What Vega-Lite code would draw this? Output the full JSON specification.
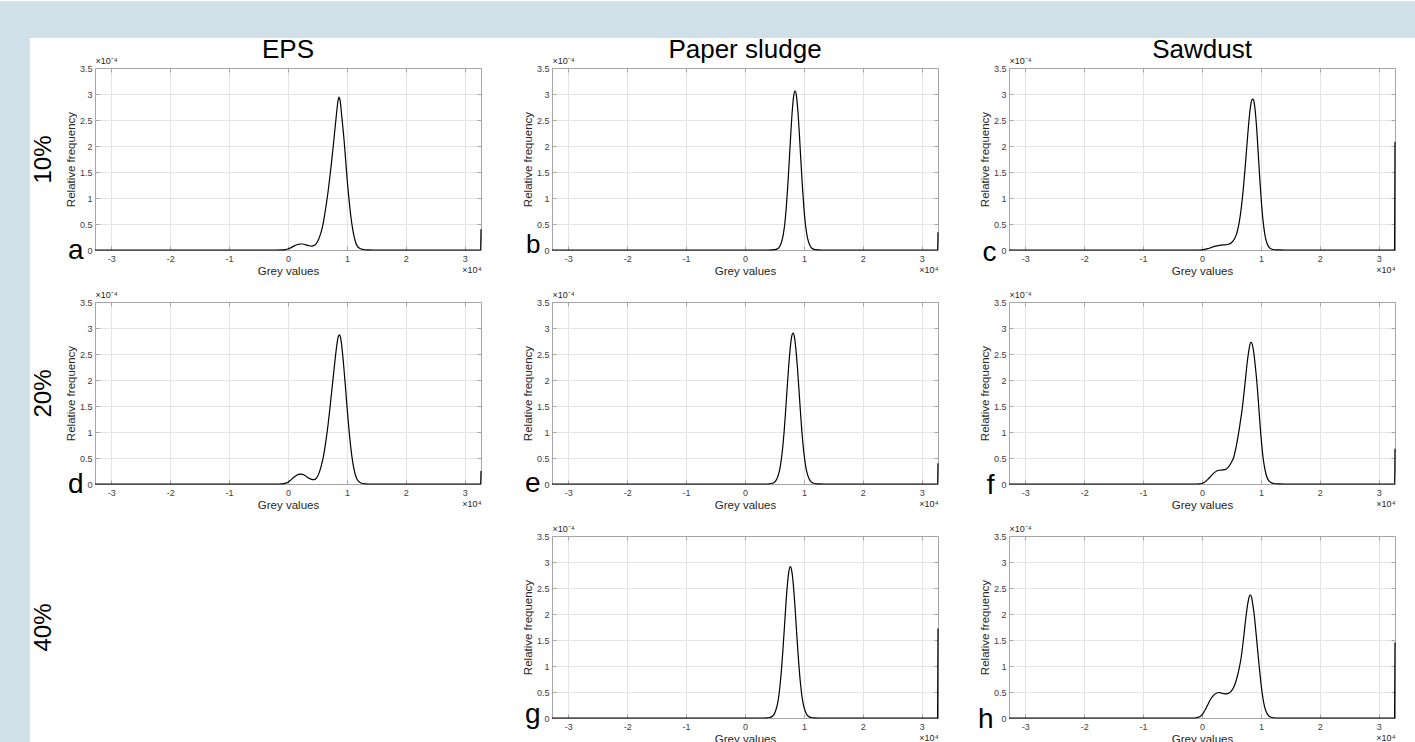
{
  "$schema": "https://vega.github.io/schema/vega-lite/v6.json",
  "padding": 0,
  "background": "#ffffff",
  "config": {"font": "Liberation Sans", "view": {"stroke": null}},
  "datasets": {
    "a": [{"grey":-32768,"freq":0},{"grey":-2000,"freq":0},{"grey":-1000,"freq":0.003e-4},{"grey":-500,"freq":0.008e-4},{"grey":0,"freq":0.02e-4},{"grey":500,"freq":0.045e-4},{"grey":1000,"freq":0.075e-4},{"grey":1500,"freq":0.10e-4},{"grey":2000,"freq":0.115e-4},{"grey":2500,"freq":0.115e-4},{"grey":3000,"freq":0.10e-4},{"grey":3500,"freq":0.085e-4},{"grey":4000,"freq":0.075e-4},{"grey":4500,"freq":0.09e-4},{"grey":5000,"freq":0.16e-4},{"grey":5500,"freq":0.30e-4},{"grey":5900,"freq":0.47e-4},{"grey":6200,"freq":0.66e-4},{"grey":6500,"freq":0.88e-4},{"grey":6800,"freq":1.12e-4},{"grey":7100,"freq":1.40e-4},{"grey":7400,"freq":1.70e-4},{"grey":7700,"freq":2.02e-4},{"grey":8000,"freq":2.36e-4},{"grey":8250,"freq":2.64e-4},{"grey":8450,"freq":2.84e-4},{"grey":8650,"freq":2.94e-4},{"grey":8800,"freq":2.90e-4},{"grey":8950,"freq":2.78e-4},{"grey":9100,"freq":2.60e-4},{"grey":9300,"freq":2.38e-4},{"grey":9500,"freq":2.14e-4},{"grey":9700,"freq":1.86e-4},{"grey":9900,"freq":1.56e-4},{"grey":10100,"freq":1.28e-4},{"grey":10300,"freq":1.04e-4},{"grey":10500,"freq":0.82e-4},{"grey":10700,"freq":0.62e-4},{"grey":10900,"freq":0.46e-4},{"grey":11200,"freq":0.27e-4},{"grey":11500,"freq":0.14e-4},{"grey":11800,"freq":0.07e-4},{"grey":12200,"freq":0.03e-4},{"grey":12800,"freq":0.01e-4},{"grey":13500,"freq":0.003e-4},{"grey":14500,"freq":0},{"grey":32700,"freq":0},{"grey":32767,"freq":0.40e-4}],
    "b": [{"grey":-32768,"freq":0},{"grey":4000,"freq":0},{"grey":4500,"freq":0.002e-4},{"grey":5000,"freq":0.006e-4},{"grey":5500,"freq":0.022e-4},{"grey":5750,"freq":0.045e-4},{"grey":6000,"freq":0.09e-4},{"grey":6250,"freq":0.17e-4},{"grey":6500,"freq":0.30e-4},{"grey":6750,"freq":0.50e-4},{"grey":7000,"freq":0.81e-4},{"grey":7250,"freq":1.21e-4},{"grey":7500,"freq":1.69e-4},{"grey":7750,"freq":2.19e-4},{"grey":8000,"freq":2.64e-4},{"grey":8250,"freq":2.95e-4},{"grey":8500,"freq":3.06e-4},{"grey":8750,"freq":2.95e-4},{"grey":9000,"freq":2.64e-4},{"grey":9250,"freq":2.19e-4},{"grey":9500,"freq":1.69e-4},{"grey":9750,"freq":1.21e-4},{"grey":10000,"freq":0.81e-4},{"grey":10250,"freq":0.50e-4},{"grey":10500,"freq":0.30e-4},{"grey":10750,"freq":0.17e-4},{"grey":11000,"freq":0.09e-4},{"grey":11250,"freq":0.045e-4},{"grey":11500,"freq":0.022e-4},{"grey":12000,"freq":0.006e-4},{"grey":12500,"freq":0.002e-4},{"grey":13000,"freq":0},{"grey":32700,"freq":0},{"grey":32767,"freq":0.34e-4}],
    "c": [{"grey":-32768,"freq":0},{"grey":-1000,"freq":0},{"grey":0,"freq":0.004e-4},{"grey":500,"freq":0.012e-4},{"grey":1000,"freq":0.025e-4},{"grey":1500,"freq":0.045e-4},{"grey":2000,"freq":0.065e-4},{"grey":2500,"freq":0.08e-4},{"grey":3000,"freq":0.09e-4},{"grey":3500,"freq":0.097e-4},{"grey":4000,"freq":0.10e-4},{"grey":4500,"freq":0.11e-4},{"grey":5000,"freq":0.14e-4},{"grey":5500,"freq":0.21e-4},{"grey":5900,"freq":0.32e-4},{"grey":6300,"freq":0.52e-4},{"grey":6700,"freq":0.84e-4},{"grey":7000,"freq":1.16e-4},{"grey":7300,"freq":1.55e-4},{"grey":7600,"freq":1.98e-4},{"grey":7900,"freq":2.40e-4},{"grey":8200,"freq":2.73e-4},{"grey":8450,"freq":2.88e-4},{"grey":8650,"freq":2.90e-4},{"grey":8850,"freq":2.84e-4},{"grey":9100,"freq":2.60e-4},{"grey":9350,"freq":2.22e-4},{"grey":9600,"freq":1.76e-4},{"grey":9850,"freq":1.30e-4},{"grey":10100,"freq":0.90e-4},{"grey":10350,"freq":0.58e-4},{"grey":10600,"freq":0.35e-4},{"grey":10850,"freq":0.20e-4},{"grey":11100,"freq":0.11e-4},{"grey":11400,"freq":0.05e-4},{"grey":11800,"freq":0.018e-4},{"grey":12300,"freq":0.005e-4},{"grey":13000,"freq":0.001e-4},{"grey":14000,"freq":0},{"grey":32700,"freq":0},{"grey":32767,"freq":2.08e-4}],
    "d": [{"grey":-32768,"freq":0},{"grey":-2000,"freq":0},{"grey":-1000,"freq":0.004e-4},{"grey":-500,"freq":0.012e-4},{"grey":0,"freq":0.035e-4},{"grey":500,"freq":0.08e-4},{"grey":1000,"freq":0.13e-4},{"grey":1500,"freq":0.17e-4},{"grey":2000,"freq":0.19e-4},{"grey":2500,"freq":0.185e-4},{"grey":3000,"freq":0.155e-4},{"grey":3500,"freq":0.115e-4},{"grey":4000,"freq":0.09e-4},{"grey":4400,"freq":0.085e-4},{"grey":4800,"freq":0.11e-4},{"grey":5200,"freq":0.19e-4},{"grey":5600,"freq":0.33e-4},{"grey":6000,"freq":0.52e-4},{"grey":6400,"freq":0.80e-4},{"grey":6800,"freq":1.14e-4},{"grey":7100,"freq":1.44e-4},{"grey":7400,"freq":1.76e-4},{"grey":7700,"freq":2.08e-4},{"grey":8000,"freq":2.40e-4},{"grey":8300,"freq":2.68e-4},{"grey":8550,"freq":2.84e-4},{"grey":8750,"freq":2.87e-4},{"grey":8950,"freq":2.80e-4},{"grey":9200,"freq":2.58e-4},{"grey":9450,"freq":2.28e-4},{"grey":9700,"freq":1.94e-4},{"grey":9950,"freq":1.58e-4},{"grey":10200,"freq":1.24e-4},{"grey":10450,"freq":0.93e-4},{"grey":10700,"freq":0.66e-4},{"grey":10950,"freq":0.45e-4},{"grey":11250,"freq":0.26e-4},{"grey":11600,"freq":0.12e-4},{"grey":12000,"freq":0.05e-4},{"grey":12500,"freq":0.015e-4},{"grey":13200,"freq":0.004e-4},{"grey":14000,"freq":0},{"grey":32700,"freq":0},{"grey":32767,"freq":0.25e-4}],
    "e": [{"grey":-32768,"freq":0},{"grey":3650,"freq":0},{"grey":4150,"freq":0.004e-4},{"grey":4650,"freq":0.014e-4},{"grey":5150,"freq":0.05e-4},{"grey":5400,"freq":0.095e-4},{"grey":5650,"freq":0.17e-4},{"grey":5900,"freq":0.28e-4},{"grey":6150,"freq":0.46e-4},{"grey":6400,"freq":0.70e-4},{"grey":6650,"freq":1.02e-4},{"grey":6900,"freq":1.41e-4},{"grey":7150,"freq":1.83e-4},{"grey":7400,"freq":2.24e-4},{"grey":7650,"freq":2.58e-4},{"grey":7900,"freq":2.82e-4},{"grey":8150,"freq":2.90e-4},{"grey":8400,"freq":2.82e-4},{"grey":8650,"freq":2.58e-4},{"grey":8900,"freq":2.24e-4},{"grey":9150,"freq":1.83e-4},{"grey":9400,"freq":1.41e-4},{"grey":9650,"freq":1.02e-4},{"grey":9900,"freq":0.70e-4},{"grey":10150,"freq":0.46e-4},{"grey":10400,"freq":0.28e-4},{"grey":10650,"freq":0.17e-4},{"grey":10900,"freq":0.095e-4},{"grey":11150,"freq":0.05e-4},{"grey":11650,"freq":0.014e-4},{"grey":12150,"freq":0.004e-4},{"grey":12650,"freq":0.001e-4},{"grey":13500,"freq":0},{"grey":32700,"freq":0},{"grey":32767,"freq":0.40e-4}],
    "f": [{"grey":-32768,"freq":0},{"grey":-1000,"freq":0},{"grey":-500,"freq":0.002e-4},{"grey":0,"freq":0.01e-4},{"grey":500,"freq":0.04e-4},{"grey":1000,"freq":0.09e-4},{"grey":1500,"freq":0.15e-4},{"grey":2000,"freq":0.21e-4},{"grey":2500,"freq":0.25e-4},{"grey":3000,"freq":0.265e-4},{"grey":3500,"freq":0.27e-4},{"grey":4000,"freq":0.28e-4},{"grey":4500,"freq":0.33e-4},{"grey":5000,"freq":0.42e-4},{"grey":5400,"freq":0.52e-4},{"grey":5800,"freq":0.72e-4},{"grey":6200,"freq":0.97e-4},{"grey":6500,"freq":1.19e-4},{"grey":6800,"freq":1.42e-4},{"grey":7100,"freq":1.72e-4},{"grey":7400,"freq":2.04e-4},{"grey":7700,"freq":2.36e-4},{"grey":8000,"freq":2.60e-4},{"grey":8300,"freq":2.73e-4},{"grey":8550,"freq":2.68e-4},{"grey":8800,"freq":2.52e-4},{"grey":9000,"freq":2.32e-4},{"grey":9200,"freq":2.10e-4},{"grey":9400,"freq":1.84e-4},{"grey":9600,"freq":1.54e-4},{"grey":9800,"freq":1.22e-4},{"grey":10000,"freq":0.93e-4},{"grey":10200,"freq":0.68e-4},{"grey":10400,"freq":0.48e-4},{"grey":10700,"freq":0.27e-4},{"grey":11000,"freq":0.14e-4},{"grey":11300,"freq":0.07e-4},{"grey":11700,"freq":0.03e-4},{"grey":12200,"freq":0.01e-4},{"grey":13000,"freq":0.002e-4},{"grey":14000,"freq":0},{"grey":32700,"freq":0},{"grey":32767,"freq":0.68e-4}],
    "g": [{"grey":-32768,"freq":0},{"grey":3200,"freq":0},{"grey":3700,"freq":0.002e-4},{"grey":4200,"freq":0.01e-4},{"grey":4700,"freq":0.038e-4},{"grey":4950,"freq":0.075e-4},{"grey":5200,"freq":0.14e-4},{"grey":5450,"freq":0.24e-4},{"grey":5700,"freq":0.39e-4},{"grey":5950,"freq":0.63e-4},{"grey":6200,"freq":0.94e-4},{"grey":6450,"freq":1.33e-4},{"grey":6700,"freq":1.76e-4},{"grey":6950,"freq":2.20e-4},{"grey":7200,"freq":2.57e-4},{"grey":7450,"freq":2.82e-4},{"grey":7700,"freq":2.91e-4},{"grey":7950,"freq":2.82e-4},{"grey":8200,"freq":2.57e-4},{"grey":8450,"freq":2.20e-4},{"grey":8700,"freq":1.76e-4},{"grey":8950,"freq":1.33e-4},{"grey":9200,"freq":0.94e-4},{"grey":9450,"freq":0.63e-4},{"grey":9700,"freq":0.39e-4},{"grey":9950,"freq":0.24e-4},{"grey":10200,"freq":0.14e-4},{"grey":10450,"freq":0.075e-4},{"grey":10700,"freq":0.038e-4},{"grey":11200,"freq":0.01e-4},{"grey":11700,"freq":0.002e-4},{"grey":12500,"freq":0},{"grey":32700,"freq":0},{"grey":32767,"freq":1.72e-4}],
    "h": [{"grey":-32768,"freq":0},{"grey":-1500,"freq":0},{"grey":-1000,"freq":0.005e-4},{"grey":-500,"freq":0.02e-4},{"grey":0,"freq":0.06e-4},{"grey":500,"freq":0.15e-4},{"grey":1000,"freq":0.26e-4},{"grey":1500,"freq":0.37e-4},{"grey":2000,"freq":0.44e-4},{"grey":2500,"freq":0.48e-4},{"grey":2900,"freq":0.49e-4},{"grey":3300,"freq":0.48e-4},{"grey":3700,"freq":0.47e-4},{"grey":4100,"freq":0.465e-4},{"grey":4600,"freq":0.48e-4},{"grey":5000,"freq":0.52e-4},{"grey":5500,"freq":0.62e-4},{"grey":5900,"freq":0.76e-4},{"grey":6300,"freq":0.95e-4},{"grey":6600,"freq":1.13e-4},{"grey":6900,"freq":1.38e-4},{"grey":7200,"freq":1.68e-4},{"grey":7500,"freq":1.98e-4},{"grey":7800,"freq":2.22e-4},{"grey":8000,"freq":2.33e-4},{"grey":8200,"freq":2.37e-4},{"grey":8400,"freq":2.33e-4},{"grey":8600,"freq":2.20e-4},{"grey":8850,"freq":2.00e-4},{"grey":9100,"freq":1.72e-4},{"grey":9350,"freq":1.42e-4},{"grey":9600,"freq":1.12e-4},{"grey":9850,"freq":0.84e-4},{"grey":10100,"freq":0.58e-4},{"grey":10350,"freq":0.38e-4},{"grey":10600,"freq":0.23e-4},{"grey":10900,"freq":0.12e-4},{"grey":11200,"freq":0.06e-4},{"grey":11600,"freq":0.02e-4},{"grey":12200,"freq":0.005e-4},{"grey":13000,"freq":0},{"grey":32700,"freq":0},{"grey":32767,"freq":1.45e-4}]
  },
  "columns": 3,
  "bounds": "flush",
  "spacing": {"row": 52, "column": 71},
  "concat": [
    {
      "width": 386, "height": 182,
      "title": {"text": "EPS", "fontSize": 26, "fontWeight": "normal", "color": "#000000", "anchor": "middle", "frame": "group", "offset": -6},
      "data": {"name": "a"},
      "layer": [
        {"mark": {"type": "line", "color": "#000000", "strokeWidth": 1.2, "interpolate": "monotone"},
         "encoding": {
           "x": {"field": "grey", "type": "quantitative", "scale": {"domain": [-32768, 32767], "nice": false, "zero": false},
                 "axis": {"orient": "bottom", "values": [-30000,-20000,-10000,0,10000,20000,30000], "labelExpr": "'' + (datum.value/10000)", "title": "Grey values", "grid": true, "gridColor": "#e4e4e4", "domain": true, "domainColor": "#a6a6a6", "ticks": true, "tickSize": -4, "tickColor": "#a6a6a6", "labelFontSize": 9, "labelColor": "#404040", "labelPadding": 8, "labelFlush": false, "titleFontSize": 11.5, "titleFontWeight": "normal", "titleColor": "#262626", "titlePadding": 2}},
           "y": {"field": "freq", "type": "quantitative", "scale": {"domain": [0, 0.00035], "nice": false, "zero": false},
                 "axis": {"orient": "left", "values": [0,0.00005,0.0001,0.00015,0.0002,0.00025,0.0003,0.00035], "labelExpr": "format(datum.value*10000,'.2~f')", "title": "Relative frequency", "grid": true, "gridColor": "#e4e4e4", "domain": true, "domainColor": "#a6a6a6", "ticks": true, "tickSize": -4, "tickColor": "#a6a6a6", "labelFontSize": 9, "labelColor": "#404040", "labelPadding": 7, "labelFlush": false, "titleFontSize": 11.5, "titleFontWeight": "normal", "titleColor": "#262626", "titlePadding": 3}}
         }},
        {"mark": {"type": "line", "strokeOpacity": 0},
         "encoding": {
           "x": {"field": "grey", "type": "quantitative", "axis": {"orient": "top", "values": [-30000,-20000,-10000,0,10000,20000,30000], "labels": false, "grid": false, "domain": true, "domainColor": "#a6a6a6", "ticks": true, "tickSize": -4, "tickColor": "#a6a6a6", "title": "×10⁻⁴", "titleAnchor": "start", "titleFontSize": 9, "titleFontWeight": "normal", "titleColor": "#262626", "titlePadding": 2}},
           "y": {"field": "freq", "type": "quantitative", "axis": {"orient": "left", "values": [0], "labelExpr": "'a'", "labelFontSize": 28, "labelColor": "#000000", "labelBaseline": "alphabetic", "labelOffset": 8, "labelPadding": 12, "labelFlush": false, "ticks": false, "tickSize": 0, "domain": false, "grid": false, "title": "10%", "titleFontSize": 24, "titleFontWeight": "normal", "titleColor": "#000000", "titlePadding": 12}}
         }},
        {"mark": {"type": "line", "strokeOpacity": 0},
         "encoding": {
           "x": {"field": "grey", "type": "quantitative", "axis": {"orient": "bottom", "labels": false, "ticks": false, "domain": false, "grid": false, "title": "×10⁴", "titleAnchor": "end", "titleFontSize": 9, "titleFontWeight": "normal", "titleColor": "#262626", "titlePadding": 15}},
           "y": {"field": "freq", "type": "quantitative", "axis": {"orient": "right", "values": [0,0.00005,0.0001,0.00015,0.0002,0.00025,0.0003,0.00035], "labels": false, "grid": false, "domain": true, "domainColor": "#a6a6a6", "ticks": true, "tickSize": -4, "tickColor": "#a6a6a6", "title": null}}
         }}
      ],
      "resolve": {"axis": {"x": "independent", "y": "independent"}}
    },
    {
      "width": 386, "height": 182,
      "title": {"text": "Paper sludge", "fontSize": 26, "fontWeight": "normal", "color": "#000000", "anchor": "middle", "frame": "group", "offset": -6},
      "data": {"name": "b"},
      "layer": [
        {"mark": {"type": "line", "color": "#000000", "strokeWidth": 1.2, "interpolate": "monotone"},
         "encoding": {
           "x": {"field": "grey", "type": "quantitative", "scale": {"domain": [-32768, 32767], "nice": false, "zero": false},
                 "axis": {"orient": "bottom", "values": [-30000,-20000,-10000,0,10000,20000,30000], "labelExpr": "'' + (datum.value/10000)", "title": "Grey values", "grid": true, "gridColor": "#e4e4e4", "domain": true, "domainColor": "#a6a6a6", "ticks": true, "tickSize": -4, "tickColor": "#a6a6a6", "labelFontSize": 9, "labelColor": "#404040", "labelPadding": 8, "labelFlush": false, "titleFontSize": 11.5, "titleFontWeight": "normal", "titleColor": "#262626", "titlePadding": 2}},
           "y": {"field": "freq", "type": "quantitative", "scale": {"domain": [0, 0.00035], "nice": false, "zero": false},
                 "axis": {"orient": "left", "values": [0,0.00005,0.0001,0.00015,0.0002,0.00025,0.0003,0.00035], "labelExpr": "format(datum.value*10000,'.2~f')", "title": "Relative frequency", "grid": true, "gridColor": "#e4e4e4", "domain": true, "domainColor": "#a6a6a6", "ticks": true, "tickSize": -4, "tickColor": "#a6a6a6", "labelFontSize": 9, "labelColor": "#404040", "labelPadding": 7, "labelFlush": false, "titleFontSize": 11.5, "titleFontWeight": "normal", "titleColor": "#262626", "titlePadding": 3}}
         }},
        {"mark": {"type": "line", "strokeOpacity": 0},
         "encoding": {
           "x": {"field": "grey", "type": "quantitative", "axis": {"orient": "top", "values": [-30000,-20000,-10000,0,10000,20000,30000], "labels": false, "grid": false, "domain": true, "domainColor": "#a6a6a6", "ticks": true, "tickSize": -4, "tickColor": "#a6a6a6", "title": "×10⁻⁴", "titleAnchor": "start", "titleFontSize": 9, "titleFontWeight": "normal", "titleColor": "#262626", "titlePadding": 2}},
           "y": {"field": "freq", "type": "quantitative", "axis": {"orient": "left", "values": [0], "labelExpr": "'b'", "labelFontSize": 26, "labelColor": "#000000", "labelBaseline": "alphabetic", "labelOffset": 2, "labelPadding": 12, "labelFlush": false, "ticks": false, "tickSize": 0, "domain": false, "grid": false, "title": null}}
         }},
        {"mark": {"type": "line", "strokeOpacity": 0},
         "encoding": {
           "x": {"field": "grey", "type": "quantitative", "axis": {"orient": "bottom", "labels": false, "ticks": false, "domain": false, "grid": false, "title": "×10⁴", "titleAnchor": "end", "titleFontSize": 9, "titleFontWeight": "normal", "titleColor": "#262626", "titlePadding": 15}},
           "y": {"field": "freq", "type": "quantitative", "axis": {"orient": "right", "values": [0,0.00005,0.0001,0.00015,0.0002,0.00025,0.0003,0.00035], "labels": false, "grid": false, "domain": true, "domainColor": "#a6a6a6", "ticks": true, "tickSize": -4, "tickColor": "#a6a6a6", "title": null}}
         }}
      ],
      "resolve": {"axis": {"x": "independent", "y": "independent"}}
    },
    {
      "width": 386, "height": 182,
      "title": {"text": "Sawdust", "fontSize": 26, "fontWeight": "normal", "color": "#000000", "anchor": "middle", "frame": "group", "offset": -6},
      "data": {"name": "c"},
      "layer": [
        {"mark": {"type": "line", "color": "#000000", "strokeWidth": 1.2, "interpolate": "monotone"},
         "encoding": {
           "x": {"field": "grey", "type": "quantitative", "scale": {"domain": [-32768, 32767], "nice": false, "zero": false},
                 "axis": {"orient": "bottom", "values": [-30000,-20000,-10000,0,10000,20000,30000], "labelExpr": "'' + (datum.value/10000)", "title": "Grey values", "grid": true, "gridColor": "#e4e4e4", "domain": true, "domainColor": "#a6a6a6", "ticks": true, "tickSize": -4, "tickColor": "#a6a6a6", "labelFontSize": 9, "labelColor": "#404040", "labelPadding": 8, "labelFlush": false, "titleFontSize": 11.5, "titleFontWeight": "normal", "titleColor": "#262626", "titlePadding": 2}},
           "y": {"field": "freq", "type": "quantitative", "scale": {"domain": [0, 0.00035], "nice": false, "zero": false},
                 "axis": {"orient": "left", "values": [0,0.00005,0.0001,0.00015,0.0002,0.00025,0.0003,0.00035], "labelExpr": "format(datum.value*10000,'.2~f')", "title": "Relative frequency", "grid": true, "gridColor": "#e4e4e4", "domain": true, "domainColor": "#a6a6a6", "ticks": true, "tickSize": -4, "tickColor": "#a6a6a6", "labelFontSize": 9, "labelColor": "#404040", "labelPadding": 7, "labelFlush": false, "titleFontSize": 11.5, "titleFontWeight": "normal", "titleColor": "#262626", "titlePadding": 3}}
         }},
        {"mark": {"type": "line", "strokeOpacity": 0},
         "encoding": {
           "x": {"field": "grey", "type": "quantitative", "axis": {"orient": "top", "values": [-30000,-20000,-10000,0,10000,20000,30000], "labels": false, "grid": false, "domain": true, "domainColor": "#a6a6a6", "ticks": true, "tickSize": -4, "tickColor": "#a6a6a6", "title": "×10⁻⁴", "titleAnchor": "start", "titleFontSize": 9, "titleFontWeight": "normal", "titleColor": "#262626", "titlePadding": 2}},
           "y": {"field": "freq", "type": "quantitative", "axis": {"orient": "left", "values": [0], "labelExpr": "'c'", "labelFontSize": 28, "labelColor": "#000000", "labelBaseline": "alphabetic", "labelOffset": 10, "labelPadding": 13, "labelFlush": false, "ticks": false, "tickSize": 0, "domain": false, "grid": false, "title": null}}
         }},
        {"mark": {"type": "line", "strokeOpacity": 0},
         "encoding": {
           "x": {"field": "grey", "type": "quantitative", "axis": {"orient": "bottom", "labels": false, "ticks": false, "domain": false, "grid": false, "title": "×10⁴", "titleAnchor": "end", "titleFontSize": 9, "titleFontWeight": "normal", "titleColor": "#262626", "titlePadding": 15}},
           "y": {"field": "freq", "type": "quantitative", "axis": {"orient": "right", "values": [0,0.00005,0.0001,0.00015,0.0002,0.00025,0.0003,0.00035], "labels": false, "grid": false, "domain": true, "domainColor": "#a6a6a6", "ticks": true, "tickSize": -4, "tickColor": "#a6a6a6", "title": null}}
         }}
      ],
      "resolve": {"axis": {"x": "independent", "y": "independent"}}
    },
    {
      "width": 386, "height": 182,
      "data": {"name": "d"},
      "layer": [
        {"data": {"values": [{}]}, "mark": {"type": "rect", "color": "#d0e0e8"},
         "encoding": {"x": {"datum": -48897, "type": "quantitative", "scale": {"domain": [-32768, 32767], "nice": false, "zero": false}, "axis": null}, "x2": {"datum": 191342},
                      "y": {"datum": 0.00092885, "type": "quantitative", "scale": {"domain": [0, 0.00035], "nice": false, "zero": false}, "axis": null}, "y2": {"datum": 0.00085769}}},
        {"data": {"values": [{}]}, "mark": {"type": "rect", "color": "#d0e0e8"},
         "encoding": {"x": {"datum": -48897, "type": "quantitative", "scale": {"domain": [-32768, 32767], "nice": false, "zero": false}, "axis": null}, "x2": {"datum": -43804},
                      "y": {"datum": 0.00085769, "type": "quantitative", "scale": {"domain": [0, 0.00035], "nice": false, "zero": false}, "axis": null}, "y2": {"datum": -0.00049808}}},
        {"mark": {"type": "line", "color": "#000000", "strokeWidth": 1.2, "interpolate": "monotone"},
         "encoding": {
           "x": {"field": "grey", "type": "quantitative", "scale": {"domain": [-32768, 32767], "nice": false, "zero": false},
                 "axis": {"orient": "bottom", "values": [-30000,-20000,-10000,0,10000,20000,30000], "labelExpr": "'' + (datum.value/10000)", "title": "Grey values", "grid": true, "gridColor": "#e4e4e4", "domain": true, "domainColor": "#a6a6a6", "ticks": true, "tickSize": -4, "tickColor": "#a6a6a6", "labelFontSize": 9, "labelColor": "#404040", "labelPadding": 8, "labelFlush": false, "titleFontSize": 11.5, "titleFontWeight": "normal", "titleColor": "#262626", "titlePadding": 2}},
           "y": {"field": "freq", "type": "quantitative", "scale": {"domain": [0, 0.00035], "nice": false, "zero": false},
                 "axis": {"orient": "left", "values": [0,0.00005,0.0001,0.00015,0.0002,0.00025,0.0003,0.00035], "labelExpr": "format(datum.value*10000,'.2~f')", "title": "Relative frequency", "grid": true, "gridColor": "#e4e4e4", "domain": true, "domainColor": "#a6a6a6", "ticks": true, "tickSize": -4, "tickColor": "#a6a6a6", "labelFontSize": 9, "labelColor": "#404040", "labelPadding": 7, "labelFlush": false, "titleFontSize": 11.5, "titleFontWeight": "normal", "titleColor": "#262626", "titlePadding": 3}}
         }},
        {"mark": {"type": "line", "strokeOpacity": 0},
         "encoding": {
           "x": {"field": "grey", "type": "quantitative", "axis": {"orient": "top", "values": [-30000,-20000,-10000,0,10000,20000,30000], "labels": false, "grid": false, "domain": true, "domainColor": "#a6a6a6", "ticks": true, "tickSize": -4, "tickColor": "#a6a6a6", "title": "×10⁻⁴", "titleAnchor": "start", "titleFontSize": 9, "titleFontWeight": "normal", "titleColor": "#262626", "titlePadding": 2}},
           "y": {"field": "freq", "type": "quantitative", "axis": {"orient": "left", "values": [0], "labelExpr": "'d'", "labelFontSize": 28, "labelColor": "#000000", "labelBaseline": "alphabetic", "labelOffset": 8, "labelPadding": 12, "labelFlush": false, "ticks": false, "tickSize": 0, "domain": false, "grid": false, "title": "20%", "titleFontSize": 24, "titleFontWeight": "normal", "titleColor": "#000000", "titlePadding": 12}}
         }},
        {"mark": {"type": "line", "strokeOpacity": 0},
         "encoding": {
           "x": {"field": "grey", "type": "quantitative", "axis": {"orient": "bottom", "labels": false, "ticks": false, "domain": false, "grid": false, "title": "×10⁴", "titleAnchor": "end", "titleFontSize": 9, "titleFontWeight": "normal", "titleColor": "#262626", "titlePadding": 15}},
           "y": {"field": "freq", "type": "quantitative", "axis": {"orient": "right", "values": [0,0.00005,0.0001,0.00015,0.0002,0.00025,0.0003,0.00035], "labels": false, "grid": false, "domain": true, "domainColor": "#a6a6a6", "ticks": true, "tickSize": -4, "tickColor": "#a6a6a6", "title": null}}
         }}
      ],
      "resolve": {"axis": {"x": "independent", "y": "independent"}}
    },
    {
      "width": 386, "height": 182,
      "data": {"name": "e"},
      "layer": [
        {"mark": {"type": "line", "color": "#000000", "strokeWidth": 1.2, "interpolate": "monotone"},
         "encoding": {
           "x": {"field": "grey", "type": "quantitative", "scale": {"domain": [-32768, 32767], "nice": false, "zero": false},
                 "axis": {"orient": "bottom", "values": [-30000,-20000,-10000,0,10000,20000,30000], "labelExpr": "'' + (datum.value/10000)", "title": "Grey values", "grid": true, "gridColor": "#e4e4e4", "domain": true, "domainColor": "#a6a6a6", "ticks": true, "tickSize": -4, "tickColor": "#a6a6a6", "labelFontSize": 9, "labelColor": "#404040", "labelPadding": 8, "labelFlush": false, "titleFontSize": 11.5, "titleFontWeight": "normal", "titleColor": "#262626", "titlePadding": 2}},
           "y": {"field": "freq", "type": "quantitative", "scale": {"domain": [0, 0.00035], "nice": false, "zero": false},
                 "axis": {"orient": "left", "values": [0,0.00005,0.0001,0.00015,0.0002,0.00025,0.0003,0.00035], "labelExpr": "format(datum.value*10000,'.2~f')", "title": "Relative frequency", "grid": true, "gridColor": "#e4e4e4", "domain": true, "domainColor": "#a6a6a6", "ticks": true, "tickSize": -4, "tickColor": "#a6a6a6", "labelFontSize": 9, "labelColor": "#404040", "labelPadding": 7, "labelFlush": false, "titleFontSize": 11.5, "titleFontWeight": "normal", "titleColor": "#262626", "titlePadding": 3}}
         }},
        {"mark": {"type": "line", "strokeOpacity": 0},
         "encoding": {
           "x": {"field": "grey", "type": "quantitative", "axis": {"orient": "top", "values": [-30000,-20000,-10000,0,10000,20000,30000], "labels": false, "grid": false, "domain": true, "domainColor": "#a6a6a6", "ticks": true, "tickSize": -4, "tickColor": "#a6a6a6", "title": "×10⁻⁴", "titleAnchor": "start", "titleFontSize": 9, "titleFontWeight": "normal", "titleColor": "#262626", "titlePadding": 2}},
           "y": {"field": "freq", "type": "quantitative", "axis": {"orient": "left", "values": [0], "labelExpr": "'e'", "labelFontSize": 28, "labelColor": "#000000", "labelBaseline": "alphabetic", "labelOffset": 7, "labelPadding": 12, "labelFlush": false, "ticks": false, "tickSize": 0, "domain": false, "grid": false, "title": null}}
         }},
        {"mark": {"type": "line", "strokeOpacity": 0},
         "encoding": {
           "x": {"field": "grey", "type": "quantitative", "axis": {"orient": "bottom", "labels": false, "ticks": false, "domain": false, "grid": false, "title": "×10⁴", "titleAnchor": "end", "titleFontSize": 9, "titleFontWeight": "normal", "titleColor": "#262626", "titlePadding": 15}},
           "y": {"field": "freq", "type": "quantitative", "axis": {"orient": "right", "values": [0,0.00005,0.0001,0.00015,0.0002,0.00025,0.0003,0.00035], "labels": false, "grid": false, "domain": true, "domainColor": "#a6a6a6", "ticks": true, "tickSize": -4, "tickColor": "#a6a6a6", "title": null}}
         }}
      ],
      "resolve": {"axis": {"x": "independent", "y": "independent"}}
    },
    {
      "width": 386, "height": 182,
      "data": {"name": "f"},
      "layer": [
        {"mark": {"type": "line", "color": "#000000", "strokeWidth": 1.2, "interpolate": "monotone"},
         "encoding": {
           "x": {"field": "grey", "type": "quantitative", "scale": {"domain": [-32768, 32767], "nice": false, "zero": false},
                 "axis": {"orient": "bottom", "values": [-30000,-20000,-10000,0,10000,20000,30000], "labelExpr": "'' + (datum.value/10000)", "title": "Grey values", "grid": true, "gridColor": "#e4e4e4", "domain": true, "domainColor": "#a6a6a6", "ticks": true, "tickSize": -4, "tickColor": "#a6a6a6", "labelFontSize": 9, "labelColor": "#404040", "labelPadding": 8, "labelFlush": false, "titleFontSize": 11.5, "titleFontWeight": "normal", "titleColor": "#262626", "titlePadding": 2}},
           "y": {"field": "freq", "type": "quantitative", "scale": {"domain": [0, 0.00035], "nice": false, "zero": false},
                 "axis": {"orient": "left", "values": [0,0.00005,0.0001,0.00015,0.0002,0.00025,0.0003,0.00035], "labelExpr": "format(datum.value*10000,'.2~f')", "title": "Relative frequency", "grid": true, "gridColor": "#e4e4e4", "domain": true, "domainColor": "#a6a6a6", "ticks": true, "tickSize": -4, "tickColor": "#a6a6a6", "labelFontSize": 9, "labelColor": "#404040", "labelPadding": 7, "labelFlush": false, "titleFontSize": 11.5, "titleFontWeight": "normal", "titleColor": "#262626", "titlePadding": 3}}
         }},
        {"mark": {"type": "line", "strokeOpacity": 0},
         "encoding": {
           "x": {"field": "grey", "type": "quantitative", "axis": {"orient": "top", "values": [-30000,-20000,-10000,0,10000,20000,30000], "labels": false, "grid": false, "domain": true, "domainColor": "#a6a6a6", "ticks": true, "tickSize": -4, "tickColor": "#a6a6a6", "title": "×10⁻⁴", "titleAnchor": "start", "titleFontSize": 9, "titleFontWeight": "normal", "titleColor": "#262626", "titlePadding": 2}},
           "y": {"field": "freq", "type": "quantitative", "axis": {"orient": "left", "values": [0], "labelExpr": "'f'", "labelFontSize": 28, "labelColor": "#000000", "labelBaseline": "alphabetic", "labelOffset": 9, "labelPadding": 15, "labelFlush": false, "ticks": false, "tickSize": 0, "domain": false, "grid": false, "title": null}}
         }},
        {"mark": {"type": "line", "strokeOpacity": 0},
         "encoding": {
           "x": {"field": "grey", "type": "quantitative", "axis": {"orient": "bottom", "labels": false, "ticks": false, "domain": false, "grid": false, "title": "×10⁴", "titleAnchor": "end", "titleFontSize": 9, "titleFontWeight": "normal", "titleColor": "#262626", "titlePadding": 15}},
           "y": {"field": "freq", "type": "quantitative", "axis": {"orient": "right", "values": [0,0.00005,0.0001,0.00015,0.0002,0.00025,0.0003,0.00035], "labels": false, "grid": false, "domain": true, "domainColor": "#a6a6a6", "ticks": true, "tickSize": -4, "tickColor": "#a6a6a6", "title": null}}
         }}
      ],
      "resolve": {"axis": {"x": "independent", "y": "independent"}}
    },
    {
      "width": 386, "height": 182,
      "data": {"values": []},
      "mark": {"type": "point", "opacity": 0},
      "encoding": {
        "x": {"field": "grey", "type": "quantitative", "scale": {"domain": [-32768, 32767], "nice": false, "zero": false}, "axis": null},
        "y": {"field": "freq", "type": "quantitative", "scale": {"domain": [0, 0.00035], "nice": false, "zero": false},
              "axis": {"orient": "left", "labels": false, "ticks": false, "domain": false, "grid": false, "title": "40%", "titleFontSize": 24, "titleFontWeight": "normal", "titleColor": "#000000", "titlePadding": 40}}
      }
    },
    {
      "width": 386, "height": 182,
      "data": {"name": "g"},
      "layer": [
        {"mark": {"type": "line", "color": "#000000", "strokeWidth": 1.2, "interpolate": "monotone"},
         "encoding": {
           "x": {"field": "grey", "type": "quantitative", "scale": {"domain": [-32768, 32767], "nice": false, "zero": false},
                 "axis": {"orient": "bottom", "values": [-30000,-20000,-10000,0,10000,20000,30000], "labelExpr": "'' + (datum.value/10000)", "title": "Grey values", "grid": true, "gridColor": "#e4e4e4", "domain": true, "domainColor": "#a6a6a6", "ticks": true, "tickSize": -4, "tickColor": "#a6a6a6", "labelFontSize": 9, "labelColor": "#404040", "labelPadding": 8, "labelFlush": false, "titleFontSize": 11.5, "titleFontWeight": "normal", "titleColor": "#262626", "titlePadding": 2}},
           "y": {"field": "freq", "type": "quantitative", "scale": {"domain": [0, 0.00035], "nice": false, "zero": false},
                 "axis": {"orient": "left", "values": [0,0.00005,0.0001,0.00015,0.0002,0.00025,0.0003,0.00035], "labelExpr": "format(datum.value*10000,'.2~f')", "title": "Relative frequency", "grid": true, "gridColor": "#e4e4e4", "domain": true, "domainColor": "#a6a6a6", "ticks": true, "tickSize": -4, "tickColor": "#a6a6a6", "labelFontSize": 9, "labelColor": "#404040", "labelPadding": 7, "labelFlush": false, "titleFontSize": 11.5, "titleFontWeight": "normal", "titleColor": "#262626", "titlePadding": 3}}
         }},
        {"mark": {"type": "line", "strokeOpacity": 0},
         "encoding": {
           "x": {"field": "grey", "type": "quantitative", "axis": {"orient": "top", "values": [-30000,-20000,-10000,0,10000,20000,30000], "labels": false, "grid": false, "domain": true, "domainColor": "#a6a6a6", "ticks": true, "tickSize": -4, "tickColor": "#a6a6a6", "title": "×10⁻⁴", "titleAnchor": "start", "titleFontSize": 9, "titleFontWeight": "normal", "titleColor": "#262626", "titlePadding": 2}},
           "y": {"field": "freq", "type": "quantitative", "axis": {"orient": "left", "values": [0], "labelExpr": "'g'", "labelFontSize": 28, "labelColor": "#000000", "labelBaseline": "alphabetic", "labelOffset": 4, "labelPadding": 12, "labelFlush": false, "ticks": false, "tickSize": 0, "domain": false, "grid": false, "title": null}}
         }},
        {"mark": {"type": "line", "strokeOpacity": 0},
         "encoding": {
           "x": {"field": "grey", "type": "quantitative", "axis": {"orient": "bottom", "labels": false, "ticks": false, "domain": false, "grid": false, "title": "×10⁴", "titleAnchor": "end", "titleFontSize": 9, "titleFontWeight": "normal", "titleColor": "#262626", "titlePadding": 15}},
           "y": {"field": "freq", "type": "quantitative", "axis": {"orient": "right", "values": [0,0.00005,0.0001,0.00015,0.0002,0.00025,0.0003,0.00035], "labels": false, "grid": false, "domain": true, "domainColor": "#a6a6a6", "ticks": true, "tickSize": -4, "tickColor": "#a6a6a6", "title": null}}
         }}
      ],
      "resolve": {"axis": {"x": "independent", "y": "independent"}}
    },
    {
      "width": 386, "height": 182,
      "data": {"name": "h"},
      "layer": [
        {"mark": {"type": "line", "color": "#000000", "strokeWidth": 1.2, "interpolate": "monotone"},
         "encoding": {
           "x": {"field": "grey", "type": "quantitative", "scale": {"domain": [-32768, 32767], "nice": false, "zero": false},
                 "axis": {"orient": "bottom", "values": [-30000,-20000,-10000,0,10000,20000,30000], "labelExpr": "'' + (datum.value/10000)", "title": "Grey values", "grid": true, "gridColor": "#e4e4e4", "domain": true, "domainColor": "#a6a6a6", "ticks": true, "tickSize": -4, "tickColor": "#a6a6a6", "labelFontSize": 9, "labelColor": "#404040", "labelPadding": 8, "labelFlush": false, "titleFontSize": 11.5, "titleFontWeight": "normal", "titleColor": "#262626", "titlePadding": 2}},
           "y": {"field": "freq", "type": "quantitative", "scale": {"domain": [0, 0.00035], "nice": false, "zero": false},
                 "axis": {"orient": "left", "values": [0,0.00005,0.0001,0.00015,0.0002,0.00025,0.0003,0.00035], "labelExpr": "format(datum.value*10000,'.2~f')", "title": "Relative frequency", "grid": true, "gridColor": "#e4e4e4", "domain": true, "domainColor": "#a6a6a6", "ticks": true, "tickSize": -4, "tickColor": "#a6a6a6", "labelFontSize": 9, "labelColor": "#404040", "labelPadding": 7, "labelFlush": false, "titleFontSize": 11.5, "titleFontWeight": "normal", "titleColor": "#262626", "titlePadding": 3}}
         }},
        {"mark": {"type": "line", "strokeOpacity": 0},
         "encoding": {
           "x": {"field": "grey", "type": "quantitative", "axis": {"orient": "top", "values": [-30000,-20000,-10000,0,10000,20000,30000], "labels": false, "grid": false, "domain": true, "domainColor": "#a6a6a6", "ticks": true, "tickSize": -4, "tickColor": "#a6a6a6", "title": "×10⁻⁴", "titleAnchor": "start", "titleFontSize": 9, "titleFontWeight": "normal", "titleColor": "#262626", "titlePadding": 2}},
           "y": {"field": "freq", "type": "quantitative", "axis": {"orient": "left", "values": [0], "labelExpr": "'h'", "labelFontSize": 28, "labelColor": "#000000", "labelBaseline": "alphabetic", "labelOffset": 9, "labelPadding": 16, "labelFlush": false, "ticks": false, "tickSize": 0, "domain": false, "grid": false, "title": null}}
         }},
        {"mark": {"type": "line", "strokeOpacity": 0},
         "encoding": {
           "x": {"field": "grey", "type": "quantitative", "axis": {"orient": "bottom", "labels": false, "ticks": false, "domain": false, "grid": false, "title": "×10⁴", "titleAnchor": "end", "titleFontSize": 9, "titleFontWeight": "normal", "titleColor": "#262626", "titlePadding": 15}},
           "y": {"field": "freq", "type": "quantitative", "axis": {"orient": "right", "values": [0,0.00005,0.0001,0.00015,0.0002,0.00025,0.0003,0.00035], "labels": false, "grid": false, "domain": true, "domainColor": "#a6a6a6", "ticks": true, "tickSize": -4, "tickColor": "#a6a6a6", "title": null}}
         }}
      ],
      "resolve": {"axis": {"x": "independent", "y": "independent"}}
    }
  ]
}
